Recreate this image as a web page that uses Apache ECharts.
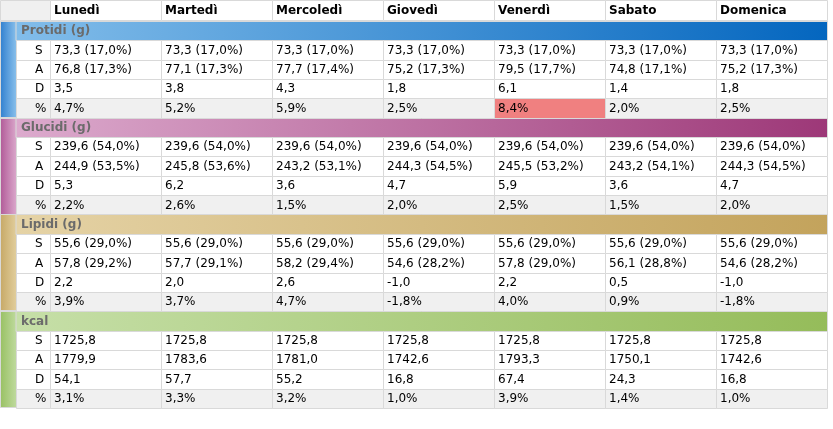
<!DOCTYPE html>
<html><head><meta charset="utf-8">
<script src="https://cdn.jsdelivr.net/npm/echarts@6/dist/echarts.min.js"></script>
<style>html,body{margin:0;padding:0;background:#fff}#c{width:833px;height:429px}</style>
</head><body><div id="c"></div>
<script>
const days = ['Lunedì','Martedì','Mercoledì','Giovedì','Venerdì','Sabato','Domenica'];
const groupNames = ['Protidi (g)','Glucidi (g)','Lipidi (g)','kcal'];
const rowKeys = ['S','A','D','%'];

const protidiS    = [73.3,73.3,73.3,73.3,73.3,73.3,73.3];
const protidiSPct = [17.0,17.0,17.0,17.0,17.0,17.0,17.0];
const protidiA    = [76.8,77.1,77.7,75.2,79.5,74.8,75.2];
const protidiAPct = [17.3,17.3,17.4,17.3,17.7,17.1,17.3];
const protidiD    = [3.5,3.8,4.3,1.8,6.1,1.4,1.8];
const protidiP    = [4.7,5.2,5.9,2.5,8.4,2.0,2.5];

const glucidiS    = [239.6,239.6,239.6,239.6,239.6,239.6,239.6];
const glucidiSPct = [54.0,54.0,54.0,54.0,54.0,54.0,54.0];
const glucidiA    = [244.9,245.8,243.2,244.3,245.5,243.2,244.3];
const glucidiAPct = [53.5,53.6,53.1,54.5,53.2,54.1,54.5];
const glucidiD    = [5.3,6.2,3.6,4.7,5.9,3.6,4.7];
const glucidiP    = [2.2,2.6,1.5,2.0,2.5,1.5,2.0];

const lipidiS     = [55.6,55.6,55.6,55.6,55.6,55.6,55.6];
const lipidiSPct  = [29.0,29.0,29.0,29.0,29.0,29.0,29.0];
const lipidiA     = [57.8,57.7,58.2,54.6,57.8,56.1,54.6];
const lipidiAPct  = [29.2,29.1,29.4,28.2,29.0,28.8,28.2];
const lipidiD     = [2.2,2.0,2.6,-1.0,2.2,0.5,-1.0];
const lipidiP     = [3.9,3.7,4.7,-1.8,4.0,0.9,-1.8];

const kcalS = [1725.8,1725.8,1725.8,1725.8,1725.8,1725.8,1725.8];
const kcalA = [1779.9,1783.6,1781.0,1742.6,1793.3,1750.1,1742.6];
const kcalD = [54.1,57.7,55.2,16.8,67.4,24.3,16.8];
const kcalP = [3.1,3.3,3.2,1.0,3.9,1.4,1.0];

const fmt = v => v.toFixed(1).replace('.', ',');
const withPct = (v, p) => fmt(v) + ' (' + fmt(p) + '%)';

const groupRows = [
  [protidiS.map((v,i)=>withPct(v,protidiSPct[i])), protidiA.map((v,i)=>withPct(v,protidiAPct[i])), protidiD.map(fmt), protidiP, ],
  [glucidiS.map((v,i)=>withPct(v,glucidiSPct[i])), glucidiA.map((v,i)=>withPct(v,glucidiAPct[i])), glucidiD.map(fmt), glucidiP],
  [lipidiS.map((v,i)=>withPct(v,lipidiSPct[i])), lipidiA.map((v,i)=>withPct(v,lipidiAPct[i])), lipidiD.map(fmt), lipidiP],
  [kcalS.map(fmt), kcalA.map(fmt), kcalD.map(fmt), kcalP]
];
const groupColors = [
  {h0:'#82bdea', h1:'#0466bf', s0:'#2f7fcf', s1:'#8cc2ec'},
  {h0:'#dcaacd', h1:'#9d3878', s0:'#b05997', s1:'#dcaacd'},
  {h0:'#e5d3a6', h1:'#c3a35c', s0:'#c6a866', s1:'#e2cf9e'},
  {h0:'#c6dfa8', h1:'#95bc5a', s0:'#98c062', s1:'#c0dba0'}
];

const rowCats = [];
const cells = [];
groupNames.forEach((g, gi) => {
  rowCats.push(g);
  cells.push({kind:'group', col:0, row:rowCats.length-1, text:g, g:gi});
  rowKeys.forEach((k, ki) => {
    rowCats.push(g + ' ' + k);
    const r = rowCats.length-1;
    const bg = ki === 3 ? '#f0f0f0' : '#ffffff';
    cells.push({kind:'lab', col:0, row:r, text:k, bg});
    groupRows[gi][ki].forEach((t, ci) => {
      let text = t, cbg = bg;
      if (ki === 3) { text = fmt(t) + '%'; if (t > 8) cbg = '#f08080'; }
      cells.push({kind:'val', col:ci, row:r, text, bg:cbg});
    });
  });
});
days.forEach((d, ci) => cells.push({kind:'head', col:ci, row:0, text:d}));

const FONT = '12px "DejaVu Sans"';
const BFONT = 'bold 12px "DejaVu Sans"';
const LINE = '#d9d9d9';
const HEAD_H = 21, LAB_W = 34, STRIP_W = 16;

function txt(text, x, y, font, fill) {
  return {type:'text', style:{text, x, y, font, fill, align:'left', verticalAlign:'middle', textAlign:'left', textVerticalAlign:'middle'}};
}

function renderItem(params, api) {
  const cell = cells[params.dataIndex];
  const c = api.coord([cell.col, cell.row]);
  const sz = api.size([1, 1]);
  const cs = params.coordSys;
  const bw = sz[0], bh = sz[1];
  const x0 = Math.round(c[0] - bw/2), x1 = Math.round(c[0] + bw/2);
  const y0 = Math.round(c[1] - bh/2), y1 = Math.round(c[1] + bh/2);
  const left = Math.round(cs.x), right = Math.round(cs.x + cs.width);
  const children = [];
  if (cell.kind === 'head') {
    const top = Math.round(cs.y) - HEAD_H;
    if (cell.col === 0) {
      children.push({type:'rect', shape:{x:left-LAB_W-STRIP_W+0.5, y:top+0.5, width:LAB_W+STRIP_W, height:HEAD_H-1}, style:{fill:'#f0f0f0', stroke:LINE}});
    }
    children.push({type:'rect', shape:{x:x0+0.5, y:top+0.5, width:x1-x0, height:HEAD_H-1}, style:{fill:'#ffffff', stroke:LINE}});
    children.push(txt(cell.text, x0+4, top+HEAD_H/2, BFONT, '#000'));
  } else if (cell.kind === 'group') {
    const gc = groupColors[cell.g];
    const sy1 = Math.round(c[1] - bh/2 + bh*5);
    children.push({type:'rect', shape:{x:left-LAB_W-STRIP_W+0.5, y:y0+0.5, width:STRIP_W, height:sy1-y0-1},
      style:{fill:new echarts.graphic.LinearGradient(0,0,1,0,[{offset:0,color:gc.s0},{offset:1,color:gc.s1}]), stroke:LINE}});
    children.push({type:'rect', shape:{x:left-LAB_W, y:y0+0.5, width:right-left+LAB_W+0.5, height:y1-y0},
      style:{fill:new echarts.graphic.LinearGradient(0,0,1,0,[{offset:0,color:gc.h0},{offset:1,color:gc.h1}]), stroke:LINE}});
    children.push(txt(cell.text, left-LAB_W+5, (y0+y1)/2+0.5, BFONT, '#6b6b6b'));
  } else if (cell.kind === 'lab') {
    children.push({type:'rect', shape:{x:left-LAB_W+0.5, y:y0+0.5, width:LAB_W, height:y1-y0}, style:{fill:cell.bg, stroke:LINE}});
    children.push(txt(cell.text, left-LAB_W+19, (y0+y1)/2+0.5, FONT, '#000'));
  } else {
    children.push({type:'rect', shape:{x:x0+0.5, y:y0+0.5, width:x1-x0, height:y1-y0}, style:{fill:cell.bg, stroke:LINE}});
    children.push(txt(cell.text, x0+4, (y0+y1)/2+0.5, FONT, '#000'));
  }
  return {type:'group', children};
}

const chart = echarts.init(document.getElementById('c'), null, {renderer:'canvas'});
chart.setOption({
  animation:false,
  backgroundColor:'#ffffff',
  grid:{left:50, right:6, top:21, bottom:21, containLabel:false},
  xAxis:{type:'category', data:days, show:false},
  yAxis:{type:'category', data:rowCats, inverse:true, show:false},
  series:[{
    type:'custom',
    renderItem,
    encode:{x:0, y:1},
    data: cells.map((c, i) => [c.col, c.row, i]),
    clip:false,
    silent:true
  }]
});
</script></body></html>
